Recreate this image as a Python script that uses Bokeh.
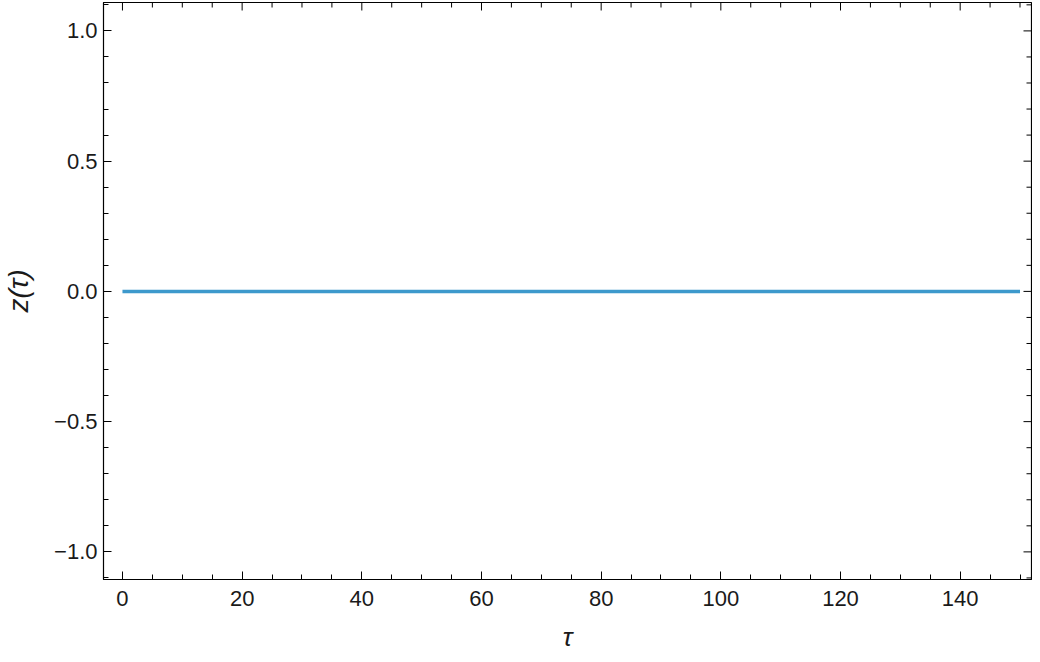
import math
from bokeh.plotting import figure
from bokeh.models import LinearAxis, FixedTicker, Range1d
from bokeh.embed import file_html
from bokeh.resources import INLINE

# data
tau = [0, 150]
z = [0, 0]
x_major = [0, 20, 40, 60, 80, 100, 120, 140]
x_minor = [v for v in range(-5, 156, 5) if v % 20 != 0]
y_major = [-1.0, -0.5, 0.0, 0.5, 1.0]
y_minor = [round(-1.1 + 0.1 * i, 1) for i in range(23)]
y_labels = {-1.0: "\u22121.0", -0.5: "\u22120.5", 0.0: "0.0", 0.5: "0.5", 1.0: "1.0"}

X0, X1 = -3.17, 151.92
Y0, Y1 = -1.106, 1.109

p = figure(width=1032, height=654, output_backend="svg", toolbar_location=None,
           x_range=Range1d(X0, X1), y_range=Range1d(Y0, Y1),
           x_axis_location=None, y_axis_location=None,
           min_border_left=102, min_border_right=1, min_border_top=2, min_border_bottom=0)
p.xgrid.visible = False
p.ygrid.visible = False
p.outline_line_color = "black"
p.outline_line_width = 1.2

xt = FixedTicker(ticks=x_major, minor_ticks=x_minor)
ymin = [v for v in y_minor if v not in y_major]
yt = FixedTicker(ticks=y_major, minor_ticks=ymin)

def style(ax):
    ax.major_tick_in = 8
    ax.major_tick_out = 0
    ax.minor_tick_in = 5
    ax.minor_tick_out = 0
    ax.axis_line_color = "black"
    ax.major_tick_line_color = "black"
    ax.minor_tick_line_color = "black"
    ax.major_label_text_font = "Liberation Sans"
    ax.major_label_text_font_size = "22px"
    ax.major_label_text_color = "#1a1a1a"
    ax.axis_label_text_font = "Liberation Sans"
    ax.axis_label_text_font_style = "italic"
    ax.axis_label_text_color = "#1a1a1a"

bottom = LinearAxis(ticker=xt, axis_label="\u03c4")
style(bottom)
bottom.major_label_standoff = 11
bottom.axis_label_standoff = 13
bottom.axis_label_text_font_size = "26px"
p.add_layout(bottom, "below")

left = LinearAxis(ticker=yt, axis_label="z(\u03c4)")
style(left)
left.major_label_overrides = y_labels
left.major_label_standoff = 6
left.axis_label_standoff = 17
left.axis_label_text_font_size = "28px"
p.add_layout(left, "left")

# mirrored ticks on top and right edges (no labels)
tick_col = "black"
p.ray(x=x_major, y=[Y1] * len(x_major), length=8, angle=-math.pi / 2,
      length_units="screen", line_color=tick_col, line_width=1)
p.ray(x=x_minor, y=[Y1] * len(x_minor), length=5, angle=-math.pi / 2,
      length_units="screen", line_color=tick_col, line_width=1)
p.ray(x=[X1] * len(y_major), y=y_major, length=8, angle=math.pi,
      length_units="screen", line_color=tick_col, line_width=1)
p.ray(x=[X1] * len(ymin), y=ymin, length=5, angle=math.pi,
      length_units="screen", line_color=tick_col, line_width=1)

p.line(tau, z, line_color="#3d99cc", line_width=3.5)

open("out.html", "w").write(file_html(p, INLINE))
